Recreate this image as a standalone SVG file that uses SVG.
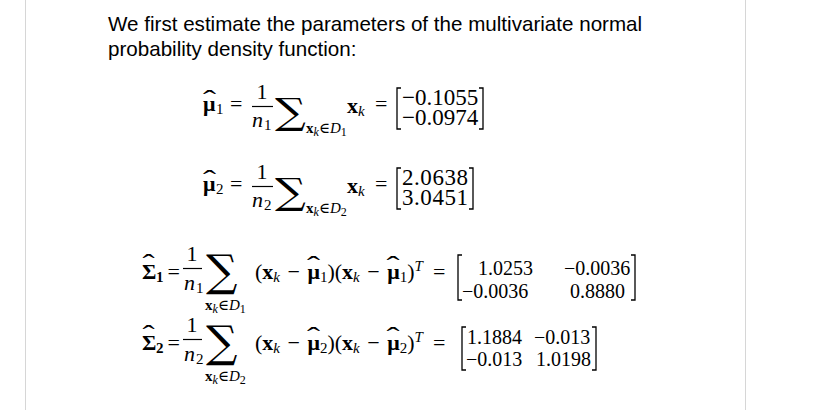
<svg xmlns="http://www.w3.org/2000/svg" width="815" height="410" viewBox="0 0 815 410">
<style>
.p{font-family:"Liberation Sans",Arial,sans-serif;font-size:20.6px;fill:#000}
.m{font-family:"Liberation Serif","DejaVu Serif",serif;font-size:22px;fill:#000}
.n{font-size:23px}
.q{font-size:20px}
.b{font-weight:bold}
.i{font-style:italic}
.s{font-size:15px}
.ss{font-size:12px}
.h{font-family:"Liberation Serif","DejaVu Serif",serif;font-size:26px;text-anchor:middle;fill:#000}
.c{text-anchor:middle}
.sum{font-family:"DejaVu Serif",serif;fill:#000}
.rule{stroke:#d6d6d6;stroke-width:1}
.br{fill:none;stroke:#000;stroke-width:1.3}
.bar{stroke:#000;stroke-width:1.2}
</style>
<rect width="815" height="410" fill="#fff"/>
<line class="rule" x1="25.5" y1="0" x2="25.5" y2="410"/>
<line class="rule" x1="745.5" y1="0" x2="745.5" y2="410"/>

<g id="intro">
<text class="p" x="108" y="31">We first estimate the parameters of the multivariate normal</text>
<text class="p" x="108" y="56">probability density function:</text>
</g>

<g id="mu1">
<text class="h" transform="translate(209.5,108) scale(1.5,1)">ˆ</text>
<text class="m b" x="203" y="111">μ</text>
<text class="m s" x="216" y="114">1</text>
<text class="m" x="230" y="111">=</text>
<text class="m c" x="262" y="99">1</text>
<line class="bar" x1="252" y1="106.5" x2="273" y2="106.5"/>
<text class="m i" x="252" y="127">n</text>
<text class="m s" x="264" y="130">1</text>
<text class="sum" transform="translate(275,124) scale(1.2,1)" font-size="36">∑</text>
<text class="m s" x="306" y="133"><tspan class="b">x</tspan><tspan class="i ss" dy="3">k</tspan><tspan dy="-3">∈</tspan><tspan class="i">D</tspan><tspan class="ss" dy="3">1</tspan></text>
<text class="m" x="347" y="113"><tspan class="b">x</tspan><tspan class="i s" dy="3">k</tspan></text>
<text class="m" x="375" y="111">=</text>
<path class="br" d="M401,88 H397 V129 H401 M479,88 H483 V129 H479"/>
<text class="m n" x="402" y="104.5">−0.1055</text>
<text class="m n" x="402" y="124.5">−0.0974</text>
</g>

<g id="mu2">
<text class="h" transform="translate(209.5,188) scale(1.5,1)">ˆ</text>
<text class="m b" x="203" y="191">μ</text>
<text class="m s" x="216" y="194">2</text>
<text class="m" x="230" y="191">=</text>
<text class="m c" x="262" y="179">1</text>
<line class="bar" x1="252" y1="186.5" x2="273" y2="186.5"/>
<text class="m i" x="252" y="207">n</text>
<text class="m s" x="264" y="210">2</text>
<text class="sum" transform="translate(275,204) scale(1.2,1)" font-size="36">∑</text>
<text class="m s" x="306" y="213"><tspan class="b">x</tspan><tspan class="i ss" dy="3">k</tspan><tspan dy="-3">∈</tspan><tspan class="i">D</tspan><tspan class="ss" dy="3">2</tspan></text>
<text class="m" x="347" y="193"><tspan class="b">x</tspan><tspan class="i s" dy="3">k</tspan></text>
<text class="m" x="375" y="191">=</text>
<path class="br" d="M401,168 H397 V209 H401 M469,168 H473 V209 H469"/>
<text class="m n" x="402" y="184.5" textLength="66">2.0638</text>
<text class="m n" x="402" y="204.5" textLength="66">3.0451</text>
</g>

<g id="sigma1">
<text class="h" transform="translate(148.5,272) scale(1.4,1)">ˆ</text>
<text class="m b" x="142" y="279">Σ</text>
<text class="m s b" x="156" y="282">1</text>
<text class="m" x="167.5" y="279">=</text>
<text class="m c" x="192" y="261">1</text>
<line class="bar" x1="183" y1="268.5" x2="202" y2="268.5"/>
<text class="m i" x="184" y="290">n</text>
<text class="m s" x="196" y="293">1</text>
<text class="sum" transform="translate(206,286)" font-size="44">∑</text>
<text class="m s" x="205" y="310"><tspan class="b">x</tspan><tspan class="i ss" dy="3">k</tspan><tspan dy="-3">∈</tspan><tspan class="i">D</tspan><tspan class="ss" dy="3">1</tspan></text>
<text class="m" x="255" y="279">(<tspan class="b">x</tspan><tspan class="i s" dy="3">k</tspan><tspan dx="2" dy="-3"> − </tspan><tspan class="b" dx="2">μ</tspan><tspan class="s" dy="3">1</tspan><tspan dy="-3">)(</tspan><tspan class="b">x</tspan><tspan class="i s" dy="3">k</tspan><tspan dx="2" dy="-3"> − </tspan><tspan class="b" dx="2">μ</tspan><tspan class="s" dy="3">1</tspan><tspan dy="-3">)</tspan><tspan class="i s" dy="-8">T</tspan></text>
<text class="h" transform="translate(313.5,274) scale(1.5,1)">ˆ</text>
<text class="h" transform="translate(393,274) scale(1.5,1)">ˆ</text>
<text class="m" x="433" y="279">=</text>
<path class="br" d="M462,255 H458 V300 H462 M631,255 H635 V300 H631"/>
<text class="m q" x="478" y="275">1.0253</text>
<text class="m q" x="564" y="275">−0.0036</text>
<text class="m q" x="462" y="298">−0.0036</text>
<text class="m q" x="570" y="298">0.8880</text>
</g>

<g id="sigma2">
<text class="h" transform="translate(148.5,343) scale(1.4,1)">ˆ</text>
<text class="m b" x="142" y="350">Σ</text>
<text class="m s b" x="156" y="353">2</text>
<text class="m" x="167.5" y="350">=</text>
<text class="m c" x="192" y="332">1</text>
<line class="bar" x1="183" y1="339.5" x2="202" y2="339.5"/>
<text class="m i" x="184" y="361">n</text>
<text class="m s" x="196" y="364">2</text>
<text class="sum" transform="translate(206,357)" font-size="44">∑</text>
<text class="m s" x="205" y="381"><tspan class="b">x</tspan><tspan class="i ss" dy="3">k</tspan><tspan dy="-3">∈</tspan><tspan class="i">D</tspan><tspan class="ss" dy="3">2</tspan></text>
<text class="m" x="255" y="350">(<tspan class="b">x</tspan><tspan class="i s" dy="3">k</tspan><tspan dx="2" dy="-3"> − </tspan><tspan class="b" dx="2">μ</tspan><tspan class="s" dy="3">2</tspan><tspan dy="-3">)(</tspan><tspan class="b">x</tspan><tspan class="i s" dy="3">k</tspan><tspan dx="2" dy="-3"> − </tspan><tspan class="b" dx="2">μ</tspan><tspan class="s" dy="3">2</tspan><tspan dy="-3">)</tspan><tspan class="i s" dy="-8">T</tspan></text>
<text class="h" transform="translate(313.5,345) scale(1.5,1)">ˆ</text>
<text class="h" transform="translate(393,345) scale(1.5,1)">ˆ</text>
<text class="m" x="433" y="350">=</text>
<path class="br" d="M466,327 H462 V370 H466 M592,327 H596 V370 H592"/>
<text class="m q" x="467" y="344">1.1884</text>
<text class="m q" x="534" y="344">−0.013</text>
<text class="m q" x="466" y="366">−0.013</text>
<text class="m q" x="536" y="366">1.0198</text>
</g>
</svg>
